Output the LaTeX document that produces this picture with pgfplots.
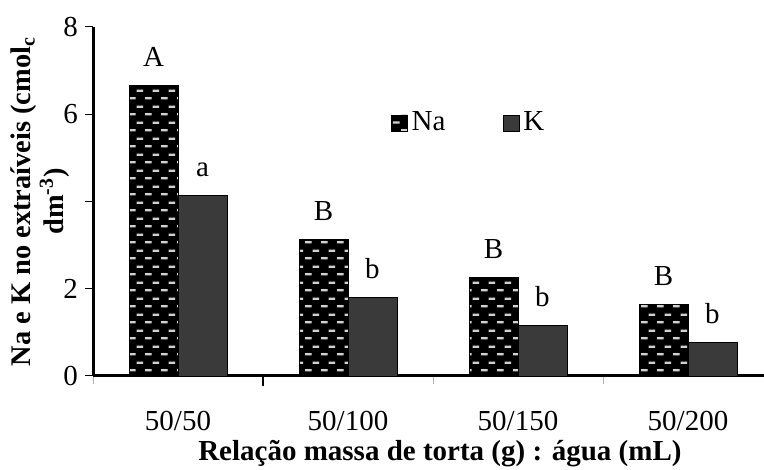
\documentclass[border=0pt]{standalone}
\usepackage{fontspec}
\setmainfont{Liberation Serif}
\usepackage{pgfplots}
\pgfplotsset{compat=1.18}
\usetikzlibrary{patterns}
\pgfdeclarepatternformonly{brickdash}{\pgfpointorigin}{\pgfqpoint{8pt}{8pt}}{\pgfqpoint{8pt}{8pt}}{
  \pgfpathrectangle{\pgfqpoint{0.6pt}{1.4pt}}{\pgfqpoint{3.4pt}{1.15pt}}
  \pgfpathrectangle{\pgfqpoint{4.6pt}{5.4pt}}{\pgfqpoint{3.4pt}{1.15pt}}
  \pgfusepath{fill}
}
\definecolor{kgray}{HTML}{3A3A3A}
\definecolor{dashgray}{HTML}{D2D2D2}
\pgfplotstableread{
x y lab
0 6.65 A
1 3.12 B
2 2.25 B
3 1.65 B
}\natab
\pgfplotstableread{
x y lab
0 4.13 a
1 1.81 b
2 1.15 b
3 0.76 b
}\ktab
\begin{document}
\begin{tikzpicture}
\begin{axis}[
  scale only axis, width=335.5pt, height=174.5pt,
  xmin=-0.5, xmax=3.447, ymin=0, ymax=8,
  axis x line=bottom, axis y line=left,
  axis line style={-, line width=1.5pt},
  /pgf/number format/assume math mode=true,
  ybar=0pt, bar width=0.288,
  ytick={0,2,4,6,8}, yticklabels={0,2,,6,8},
  xtick={0,1,2,3}, xticklabels={50/50,50/100,50/150,50/200},
  major x tick style={draw=none},
  minor xtick={-0.5,1.5,2.5},
  minor x tick style={gray!60, line width=0.4pt},
  minor tick length=4pt,
  extra x ticks={0.5}, extra x tick labels={},
  extra x tick style={major tick length=5pt, major x tick style={draw=black, line width=1pt}},
  major tick length=4pt,
  tick align=outside,
  y tick style={black, line width=0.5pt},
  tick label style={font=\fontsize{14.5}{16}\selectfont},
  xticklabel style={yshift=-10pt},
  xlabel={Relação massa de torta (g) : água (mL)},
  xlabel style={font=\fontsize{14.5}{16}\selectfont\bfseries, at={(axis description cs:0.517,0)}, anchor=base, yshift=-42pt},
  ylabel={Na e K no extraíveis (cmol\textsubscript{c}\\dm\textsuperscript{-3})},
  ylabel style={font=\fontsize{14.2}{16.5}\selectfont\bfseries, align=center, at={(axis description cs:-0.079,0.5)}, anchor=center},
  nodes near coords,
  point meta=explicit symbolic,
  every node near coord/.append style={font=\fontsize{14.5}{16}\selectfont, anchor=base, yshift=9.5pt},
  legend columns=2,
  legend style={draw=none, fill=none, at={(axis description cs:0.4344,0.725)}, anchor=west,
    font=\fontsize{14.5}{16}\selectfont,
    /tikz/every even column/.append style={column sep=26.5pt}},
  legend image code/.code={\draw[#1] (0pt,-4pt) rectangle (8pt,4pt);},
]
\addplot[draw=black, fill=black, postaction={pattern=brickdash, pattern color=dashgray}] table[x=x, y=y, meta=lab] {\natab};
\addplot[draw=black, fill=kgray] table[x=x, y=y, meta=lab] {\ktab};
\legend{Na, K}
\coordinate (O) at (rel axis cs:0,0);
\end{axis}
\pgfresetboundingbox
\path[use as bounding box] (O) ++(-46.5pt,-47pt) rectangle ++(382pt,235pt);
\end{tikzpicture}
\end{document}
